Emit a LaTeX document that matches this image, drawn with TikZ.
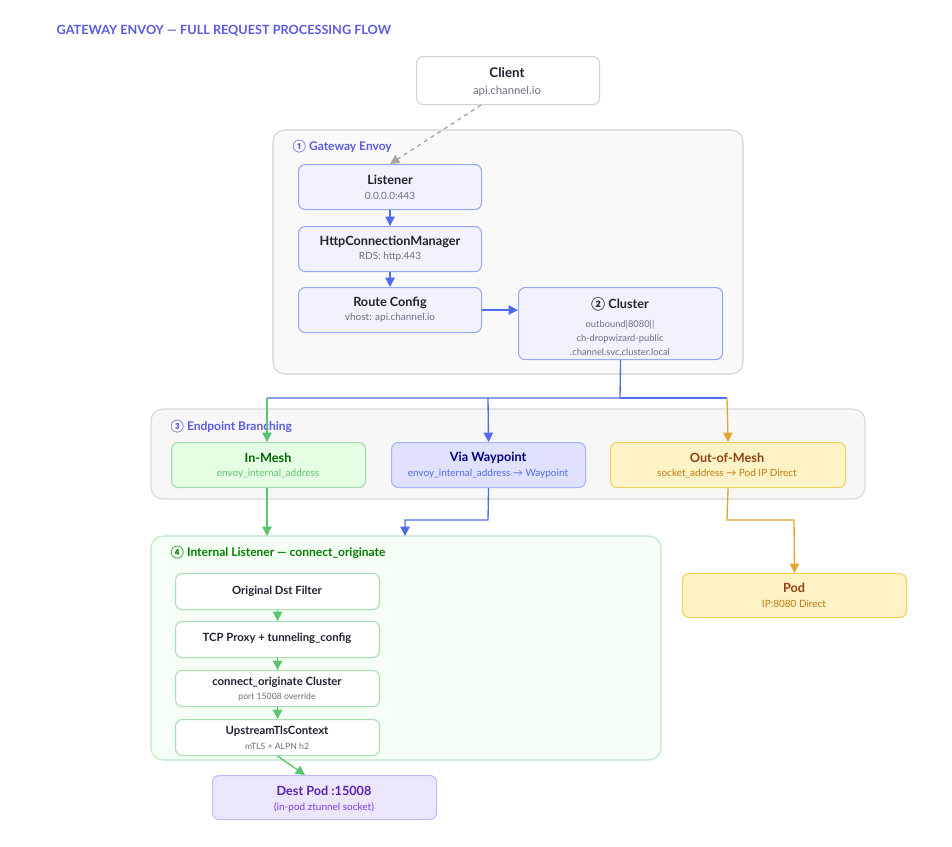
\documentclass[tikz,border=0pt]{standalone}
\usepackage{fontspec}
\setmainfont{Lato}
\usetikzlibrary{arrows.meta}
\definecolor{ind}{HTML}{5B5BE0}
\definecolor{blu}{HTML}{4F6CF0}
\definecolor{grn}{HTML}{5CC46E}
\definecolor{org}{HTML}{E8A534}
\definecolor{txt}{HTML}{1F2330}
\definecolor{sub}{HTML}{6B7080}
\definecolor{vfill}{HTML}{ECE6FC}
\definecolor{vdraw}{HTML}{C7B8F5}
\definecolor{vtxt}{HTML}{5B21B6}
\definecolor{vsub}{HTML}{7C3AED}
\definecolor{yfill}{HTML}{FEF3C7}
\definecolor{ydraw}{HTML}{F5CF5C}
\definecolor{ytxt}{HTML}{92400E}
\definecolor{ysub}{HTML}{C2780A}
\begin{document}
\begin{tikzpicture}[x=0.75pt,y=-0.75pt,font=\sffamily,
 box/.style={draw,rounded corners=5pt,line width=0.8pt,align=center,anchor=north west,inner sep=0pt},
 ttl/.style={font=\fontsize{9.5}{11}\selectfont\bfseries,text=txt},
 sb/.style={font=\fontsize{7.5}{10}\selectfont,text=sub,align=center},
 grp/.style={draw,rounded corners=9pt,line width=0.8pt},
 glab/.style={anchor=west,font=\fontsize{9}{11}\selectfont\bfseries},
 arr/.style={-{Triangle[length=7pt,width=7pt]},line width=1pt}]
\useasboundingbox (0,0) rectangle (952,846);
\fill[white] (0,0) rectangle (952,846);
\node[anchor=west,text=ind,font=\fontsize{9.5}{11}\selectfont\bfseries] (title) at (52,31) {GATEWAY ENVOY — FULL REQUEST PROCESSING FLOW};
% groups
\draw[grp,draw=gray!35,fill=gray!5] (273,130) rectangle (743,374);
\node[glab,text=ind] (g1) at (288,147) {① Gateway Envoy};
\draw[grp,draw=gray!30,fill=gray!6] (151,409) rectangle (865,499);
\node[glab,text=ind] (g3) at (166,427) {③ Endpoint Branching};
\draw[grp,draw=grn!40,fill=green!4] (151,536) rectangle (661,760);
\node[glab,text=green!50!black] (g4) at (166,553) {④ Internal Listener — connect\_originate};
% nodes
\node[box,draw=gray!35,fill=white,minimum width=137.25pt,minimum height=36pt] (client) at (416,56) {};
\node[ttl,font=\fontsize{10}{12}\selectfont\bfseries] (clientt) at (507,73) {Client};
\node[sb,font=\fontsize{8.5}{10}\selectfont] (clients) at (507,91) {api.channel.io};
\tikzset{gb/.style={box,draw=blu!60,fill=blue!5,minimum width=137.25pt,minimum height=33.75pt}}
\node[gb] (lis) at (298,164) {};
\node[ttl] at (390,180) {Listener}; \node[sb] at (390,196) {0.0.0.0:443};
\node[gb] (hcm) at (298,226) {};
\node[ttl] at (390,242) {HttpConnectionManager}; \node[sb] at (390,257) {RDS: http.443};
\node[gb] (route) at (298,287) {};
\node[ttl] at (390,303) {Route Config}; \node[sb] at (390,318) {vhost: api.channel.io};
\node[gb,minimum width=153pt,minimum height=54pt] (clu) at (518,287) {};
\node[ttl] at (620,304) {② Cluster};
\node[sb,font=\fontsize{7}{10.5}\selectfont] at (620,338) {outbound|8080||\\ch-dropwizard-public\\.channel.svc.cluster.local};
% endpoints
\node[box,draw=grn!60,fill=green!10,minimum width=145.5pt,minimum height=33.75pt] (inm) at (171,442) {};
\node[ttl,text=green!40!black] at (268,458) {In-Mesh}; \node[sb,text=grn] at (268,474) {envoy\_internal\_address};
\node[box,draw=blu!50,fill=blue!12,minimum width=145.5pt,minimum height=33.75pt] (way) at (391,442) {};
\node[ttl,text=blue!50!black] at (488,458) {Via Waypoint}; \node[sb,text=blu] at (488,474) {envoy\_internal\_address → Waypoint};
\node[box,draw=ydraw,fill=yfill,minimum width=176.25pt,minimum height=33.75pt] (oom) at (610,442) {};
\node[ttl,text=ytxt] at (727,458) {Out-of-Mesh}; \node[sb,text=ysub] at (727,474) {socket\_address → Pod IP Direct};
\node[box,draw=ydraw,fill=yfill,minimum width=168pt,minimum height=33pt] (pod) at (682,573) {};
\node[ttl,text=ytxt] at (794,588) {Pod}; \node[sb,text=ysub] at (794,604) {IP:8080 Direct};
% internal
\tikzset{ib/.style={box,draw=grn!55,fill=white,minimum width=153pt,minimum height=27pt}}
\node[ib] (odf) at (175,573) {}; \node[ttl,font=\fontsize{8.5}{10}\selectfont\bfseries] at (277,591) {Original Dst Filter};
\node[ib] (tcp) at (175,621) {}; \node[ttl,font=\fontsize{8.5}{10}\selectfont\bfseries] at (277,638) {TCP Proxy + tunneling\_config};
\node[ib] (co) at (175,670) {}; \node[ttl,font=\fontsize{8.5}{10}\selectfont\bfseries] at (277,682) {connect\_originate Cluster}; \node[sb,font=\fontsize{6.5}{8}\selectfont] at (277,697) {port 15008 override};
\node[ib] (utc) at (175,719) {}; \node[ttl,font=\fontsize{8.5}{10}\selectfont\bfseries] at (277,731) {UpstreamTlsContext}; \node[sb,font=\fontsize{6.5}{8}\selectfont] at (277,746) {mTLS + ALPN h2};
\node[box,draw=vdraw,fill=vfill,minimum width=168pt,minimum height=33pt] (dest) at (212,775) {};
\node[ttl,text=vtxt] at (324,791) {Dest Pod :15008}; \node[sb,text=vsub] at (324,807) {(in-pod ztunnel socket)};
% connectors
\draw[arr,gray!70,dashed] (client.south)++(-27,0) -- (lis.north);
\draw[arr,blu] (lis.south) -- (hcm.north);
\draw[arr,blu] (hcm.south) -- (route.north);
\draw[arr,blu] (route.east) -- (clu.west |- route.east);
\draw[blu,line width=1pt] (clu.south) -- (620,398) -- (267,398);
\draw[blu,line width=1pt] (620,398) -- (727,398);
\draw[arr,grn] (267,398) -- (inm.north -| 267,0);
\draw[arr,blu] (488,398) -- (way.north);
\draw[arr,org] (727,398) -- (oom.north);
\draw[arr,grn] (inm.south -| 267,0) -- (267,536);
\draw[arr,blu] (way.south) -- (488,520) -- (405,520) -- (405,536);
\draw[arr,org] (oom.south) -- (727,520) -- (794,520) -- (pod.north);
\draw[arr,grn] (odf.south) -- (tcp.north);
\draw[arr,grn] (tcp.south) -- (co.north);
\draw[arr,grn] (co.south) -- (utc.north);
\draw[arr,grn] (utc.south) -- (305,775);
\end{tikzpicture}
\end{document}
